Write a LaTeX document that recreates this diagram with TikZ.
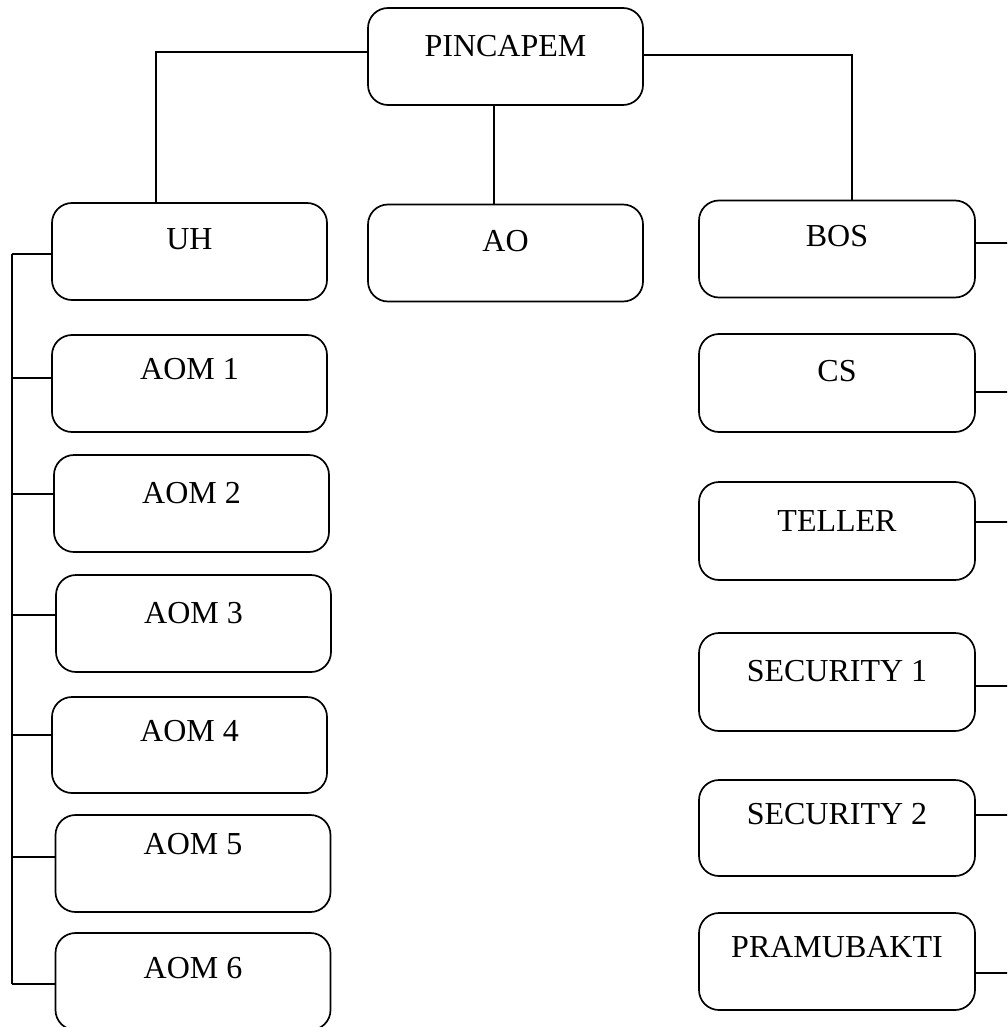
\documentclass[tikz,border=0pt]{standalone}
\usepackage{fontspec}
\setmainfont{Liberation Serif}
\begin{document}
\begin{tikzpicture}[x=1pt,y=-1pt,
  box/.style={draw, line width=1.7pt, rounded corners=20pt, minimum width=275pt, minimum height=97pt, inner sep=0pt},
  lbl/.style={anchor=base, inner sep=0pt, font=\fontsize{32}{37}\selectfont},
  conn/.style={line width=1.7pt}]
\clip (0,0) rectangle (1007,1027);
% boxes
\node[box] (pin) at (505.5,56.5) {};
\node[box] (uh) at (189.5,251.5) {};
\node[box] (ao) at (505.5,253) {};
\node[box, minimum width=276pt] (bos) at (837,249) {};
\node[box] (aom1) at (189.5,383.5) {};
\node[box] (aom2) at (191.5,503.5) {};
\node[box] (aom3) at (193.5,623.5) {};
\node[box, minimum height=96pt] (aom4) at (189.5,745) {};
\node[box] (aom5) at (193,863.5) {};
\node[box] (aom6) at (193,981.5) {};
\node[box, minimum width=276pt, minimum height=98pt] (cs) at (837,383) {};
\node[box, minimum width=276pt, minimum height=98pt] (teller) at (837,531) {};
\node[box, minimum width=276pt, minimum height=98pt] (sec1) at (837,682) {};
\node[box, minimum width=276pt, minimum height=96pt] (sec2) at (837,828) {};
\node[box, minimum width=276pt] (pram) at (837,961.5) {};
% labels
\node[lbl] (pint) at (505.5,56.5) {PINCAPEM};
\node[lbl] (uht) at (189.5,249.5) {UH};
\node[lbl] (aot) at (505.5,251.5) {AO};
\node[lbl] (bost) at (837,246.5) {BOS};
\node[lbl] (aom1t) at (189.5,379.5) {AOM 1};
\node[lbl] (aom2t) at (191.5,503.5) {AOM 2};
\node[lbl] (aom3t) at (193.5,623.5) {AOM 3};
\node[lbl] (aom4t) at (189.5,741.5) {AOM 4};
\node[lbl] (aom5t) at (193,854.5) {AOM 5};
\node[lbl] (aom6t) at (193,978.5) {AOM 6};
\node[lbl] (cst) at (837,381.5) {CS};
\node[lbl] (tellert) at (837,531.5) {TELLER};
\node[lbl] (sec1t) at (837,681.5) {SECURITY 1};
\node[lbl] (sec2t) at (837,824.5) {SECURITY 2};
\node[lbl] (pramt) at (837,957.5) {PRAMUBAKTI};
% top connectors
\draw[conn] ([yshift=4.5pt]pin.west) -| ([xshift=-33.5pt]uh.north);
\draw[conn] ([xshift=-11.5pt]pin.south) -- ([xshift=-11.5pt]ao.north);
\draw[conn] ([yshift=1.5pt]pin.east) -| ([xshift=15pt]bos.north);
% left bus
\coordinate (bt) at (12,254);
\coordinate (bb) at (12,984);
\draw[conn] (bt) -- (bb);
\foreach \n/\s in {uh/-2.5, aom1/5.5, aom2/9.5, aom3/8.5, aom4/10, aom5/6.5, aom6/-2.5}{
  \draw[conn] ([yshift=\s pt]\n.west) coordinate (a) -- (a -| bt);
}
% right stubs
\coordinate (re) at (1010,0);
\foreach \n/\s in {bos/6, cs/-9, teller/9, sec1/-4, sec2/13, pram/-11.5}{
  \draw[conn] ([yshift=\s pt]\n.east) coordinate (a) -- (a -| re);
}
\end{tikzpicture}
\end{document}
